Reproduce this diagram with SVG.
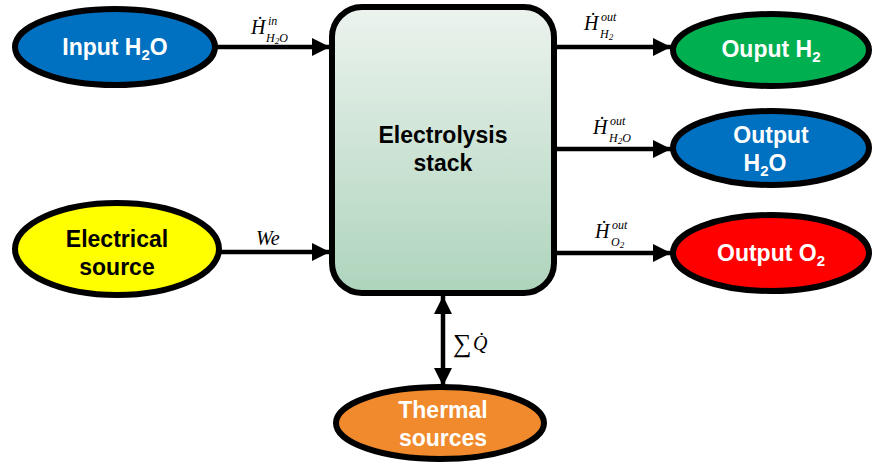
<svg xmlns="http://www.w3.org/2000/svg" width="872" height="462" viewBox="0 0 872 462">
<style>
.node{stroke:#000;stroke-width:6}
.lbl{font-family:"Liberation Sans",Arial,sans-serif;font-weight:bold;font-size:23px;text-anchor:middle}
.w{fill:#fff}
.k{fill:#000}
.m{font-family:"Liberation Serif","Times New Roman",serif;font-style:italic;fill:#000}
.c{stroke:#000;stroke-width:4.5;fill:none}
</style>
<defs>
<linearGradient id="g" x1="0" y1="0" x2="0" y2="1">
<stop offset="0" stop-color="#ECF3EE"/>
<stop offset="1" stop-color="#AED4BC"/>
</linearGradient>
<marker id="a" viewBox="0 0 10 10" refX="10" refY="5" markerWidth="4.2" markerHeight="4" orient="auto" markerUnits="strokeWidth">
<path d="M0,0 L10,5 L0,10 Z" fill="#000"/>
</marker>
<marker id="as" viewBox="0 0 10 10" refX="10" refY="5" markerWidth="4.2" markerHeight="4" orient="auto-start-reverse" markerUnits="strokeWidth">
<path d="M0,0 L10,5 L0,10 Z" fill="#000"/>
</marker>
</defs>
<g id="connectors">
<line class="c" x1="216" y1="47" x2="330" y2="47" marker-end="url(#a)"/>
<line class="c" x1="221" y1="252" x2="330" y2="252" marker-end="url(#a)"/>
<line class="c" x1="556" y1="47" x2="671" y2="47" marker-end="url(#a)"/>
<line class="c" x1="556" y1="149" x2="671" y2="149" marker-end="url(#a)"/>
<line class="c" x1="556" y1="253" x2="671" y2="253" marker-end="url(#a)"/>
<line class="c" x1="443" y1="296" x2="443" y2="386" marker-start="url(#as)" marker-end="url(#as)"/>
<text class="m" font-size="20"><tspan x="251" y="34">Ḣ</tspan><tspan x="268" y="25" font-size="12">in</tspan><tspan x="266" y="42" font-size="12">H<tspan font-size="9" dy="2">2</tspan><tspan dy="-2">O</tspan></tspan></text>
<text class="m" x="256" y="245" font-size="20">We</text>
<text class="m" font-size="20"><tspan x="584" y="30">Ḣ</tspan><tspan x="601" y="21" font-size="12">out</tspan><tspan x="600" y="38" font-size="12">H<tspan font-size="9" dy="2">2</tspan></tspan></text>
<text class="m" font-size="20"><tspan x="593" y="134">Ḣ</tspan><tspan x="610" y="125" font-size="12">out</tspan><tspan x="609" y="142" font-size="12">H<tspan font-size="9" dy="2">2</tspan><tspan dy="-2">O</tspan></tspan></text>
<text class="m" font-size="20"><tspan x="595" y="238">Ḣ</tspan><tspan x="612" y="229" font-size="12">out</tspan><tspan x="611" y="246" font-size="12">O<tspan font-size="9" dy="2">2</tspan></tspan></text>
<text class="m"><tspan x="453" y="352" font-size="26" font-style="normal">∑</tspan><tspan x="473" y="350" font-size="20">Q̇</tspan></text>
</g>
<g id="stack">
<rect class="node" x="332" y="7" width="222" height="286" rx="30" fill="url(#g)"/>
<text class="lbl k"><tspan x="443" y="143">Electrolysis</tspan><tspan x="443" y="171">stack</tspan></text>
</g>
<g id="input-h2o">
<ellipse class="node" cx="115" cy="47" rx="100" ry="38" fill="#0070C0"/>
<text class="lbl w" x="115" y="55">Input H<tspan font-size="15" dy="5">2</tspan><tspan dy="-5">O</tspan></text>
</g>
<g id="electrical-source">
<ellipse class="node" cx="117" cy="249" rx="102" ry="46" fill="#FFFF00"/>
<text class="lbl k"><tspan x="117" y="247">Electrical</tspan><tspan x="117" y="275">source</tspan></text>
</g>
<g id="output-h2">
<ellipse class="node" cx="771" cy="50" rx="98" ry="36" fill="#00B050"/>
<text class="lbl w" x="771" y="57">Ouput H<tspan font-size="15" dy="5">2</tspan></text>
</g>
<g id="output-h2o">
<ellipse class="node" cx="771" cy="148" rx="98" ry="37" fill="#0070C0"/>
<text class="lbl w"><tspan x="771" y="143">Output</tspan><tspan x="765" y="171">H<tspan font-size="15" dy="5">2</tspan><tspan dy="-5">O</tspan></tspan></text>
</g>
<g id="output-o2">
<ellipse class="node" cx="771" cy="253" rx="98" ry="38" fill="#FF0000"/>
<text class="lbl w" x="771" y="261">Output O<tspan font-size="15" dy="5">2</tspan></text>
</g>
<g id="thermal-sources">
<ellipse class="node" cx="440" cy="423" rx="104" ry="36" fill="#F08A2C"/>
<text class="lbl w"><tspan x="443" y="418">Thermal</tspan><tspan x="443" y="446">sources</tspan></text>
</g>
</svg>
